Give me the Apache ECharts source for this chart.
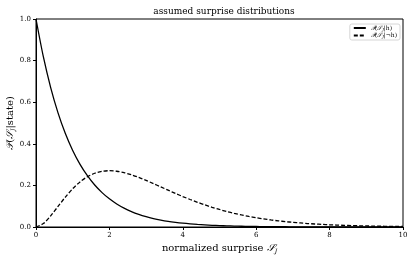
<!DOCTYPE html>
<html><head><meta charset="utf-8">
<script src="https://cdn.jsdelivr.net/npm/echarts@6/dist/echarts.min.js"></script>
<style>html,body{margin:0;padding:0;background:#fff}#c{width:415px;height:260px}</style>
</head><body><div id="c"></div>
<script>
var xs = [0,0.2,0.4,0.6,0.8,1.0,1.2,1.4,1.6,1.8,2.0,2.2,2.4,2.6,2.8,3.0,3.2,3.4,3.6,3.8,4.0,4.2,4.4,4.6,4.8,5.0,5.2,5.4,5.6,5.8,6.0,6.2,6.4,6.6,6.8,7.0,7.2,7.4,7.6,7.8,8.0,8.2,8.4,8.6,8.8,9.0,9.2,9.4,9.6,9.8,10.0];
var pH = [1.0,0.8187,0.6703,0.5488,0.4493,0.3679,0.3012,0.2466,0.2019,0.1653,0.1353,0.1108,0.0907,0.0743,0.0608,0.0498,0.0408,0.0334,0.0273,0.0224,0.0183,0.0150,0.0123,0.0101,0.0082,0.0067,0.0055,0.0045,0.0037,0.0030,0.0025,0.0020,0.0017,0.0014,0.0011,0.0009,0.0007,0.0006,0.0005,0.0004,0.0003,0.0003,0.0002,0.0002,0.0002,0.0001,0.0001,0.0001,0.0001,0.0001,0.0000];
var pNotH = [0,0.0164,0.0536,0.0988,0.1438,0.1839,0.2169,0.2417,0.2584,0.2678,0.2707,0.2681,0.2613,0.2510,0.2384,0.2240,0.2087,0.1929,0.1771,0.1615,0.1465,0.1323,0.1189,0.1063,0.0948,0.0842,0.0746,0.0659,0.0580,0.0509,0.0446,0.0390,0.0340,0.0296,0.0258,0.0223,0.0194,0.0167,0.0145,0.0125,0.0107,0.0092,0.0079,0.0068,0.0058,0.0050,0.0043,0.0037,0.0031,0.0027,0.0023];
var seriesNames = ['h', 'nh'];
var F = '"DejaVu Serif", "Liberation Serif", serif';
function zip(a){ return xs.map(function(x,i){return [x,a[i]];}); }
var chart = echarts.init(document.getElementById('c'));
var richMath = {
  m:{fontFamily:F, fontStyle:'italic', fontSize:6, color:'#000'},
  s:{fontFamily:F, fontStyle:'italic', fontSize:4, color:'#000', verticalAlign:'bottom', padding:[3,0,0,0]},
  t:{fontFamily:F, fontSize:6, color:'#000'}
};
var nameRich = {t:{fontFamily:F,fontSize:10,color:'#000'}, m:{fontFamily:F,fontSize:10,fontStyle:'italic',color:'#000'}, s:{fontFamily:F,fontSize:6,fontStyle:'italic',color:'#000',verticalAlign:'bottom',padding:[6,0,0,0]}};
chart.setOption({
  animation:false,
  title:{text:'assumed surprise distributions', left:219, top:2, textAlign:'center',
    textStyle:{fontFamily:F, fontWeight:'normal', fontSize:9, color:'#000'}},
  grid:{left:36, right:12, top:19, bottom:33, show:true, borderColor:'#000', borderWidth:1, outerBoundsMode:'none', containLabel:false},
  legend:{right:15, top:24, orient:'vertical', itemWidth:12, itemHeight:5, itemGap:1,
    padding:[1,3,1,3], borderColor:'#ccc', borderWidth:0.8, borderRadius:2,
    itemStyle:{opacity:0},
    formatter:function(n){ return n==='h' ? '{m|𝒫}{t|(}{m|𝒮}{s|J}{t||h)}' : '{m|𝒫}{t|(}{m|𝒮}{s|J}{t||¬h)}'; },
    textStyle:{fontFamily:F, fontSize:6, color:'#000', rich:richMath}},
  xAxis:{type:'value', min:0, max:10, interval:2,
    name:'{t|normalized surprise }{m|𝒮}{s|J}', nameLocation:'middle', nameGap:15, nameMoveOverlap:false,
    nameTextStyle:{rich:nameRich},
    axisLine:{show:true, lineStyle:{color:'#000', width:1}},
    axisTick:{show:true, length:3, lineStyle:{color:'#000'}},
    axisLabel:{fontFamily:F, fontSize:7, color:'#000', margin:5},
    splitLine:{show:false}},
  yAxis:{type:'value', min:0, max:1, interval:0.2,
    name:'{m|𝒫}{t|(}{m|𝒮}{s|J}{t||state)}', nameLocation:'middle', nameGap:20, nameMoveOverlap:false,
    nameTextStyle:{rich:nameRich},
    axisLine:{show:true, lineStyle:{color:'#000', width:1}},
    axisTick:{show:true, length:3, lineStyle:{color:'#000'}},
    axisLabel:{fontFamily:F, fontSize:7, color:'#000', margin:5, formatter:function(v){return v.toFixed(1);}},
    splitLine:{show:false}},
  series:[
    {name:seriesNames[0], type:'line', data:zip(pH), smooth:0.3, symbol:'none', lineStyle:{color:'#000', width:1.3, type:'solid'}, itemStyle:{color:'#000'}},
    {name:seriesNames[1], type:'line', data:zip(pNotH), smooth:0.3, symbol:'none', lineStyle:{color:'#000', width:1.3, type:[4,2]}, itemStyle:{color:'#000'}}
  ]
});
</script></body></html>
